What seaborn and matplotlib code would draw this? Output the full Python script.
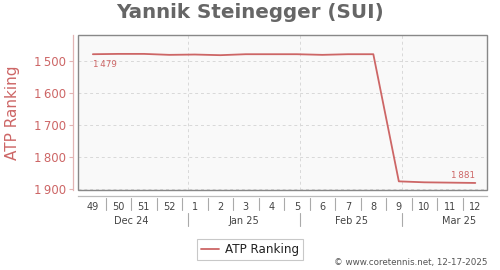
import matplotlib
matplotlib.use('Agg')
import matplotlib.pyplot as plt
import matplotlib.dates as mdates
import matplotlib.transforms as mtrans
from matplotlib.lines import Line2D
from matplotlib.patches import Rectangle
import seaborn as sns
import pandas as pd

# ---- data ----
week_labels = ['49', '50', '51', '52', '1', '2', '3', '4', '5', '6', '7', '8', '9', '10', '11', '12']
week_dates = ['2024-12-06', '2024-12-13', '2024-12-20', '2024-12-27', '2025-01-03', '2025-01-10',
              '2025-01-17', '2025-01-24', '2025-01-31', '2025-02-07', '2025-02-14', '2025-02-21',
              '2025-02-28', '2025-03-07', '2025-03-14', '2025-03-21']
ranking = [1479, 1478, 1478, 1481, 1480, 1482, 1479, 1479, 1479, 1481, 1479, 1479,
           1876, 1879, 1880, 1881]
month_labels = ['Dec 24', 'Jan 25', 'Feb 25', 'Mar 25']
month_starts = ['2024-12-01', '2025-01-01', '2025-02-01', '2025-03-01', '2025-04-01']
y_ticks = [1500, 1600, 1700, 1800, 1900]
title = 'Yannik Steinegger (SUI)'
series_name = 'ATP Ranking'
footer = '\u00a9 www.coretennis.net, 12-17-2025'

RED = '#cd6666'
GRAY_TXT = '#444444'

df = pd.DataFrame({'date': pd.to_datetime(week_dates), 'rank': ranking})

sns.set_style('white')
plt.rcParams['font.family'] = ['DejaVu Sans']

fig = plt.figure(figsize=(5, 2.7), dpi=100)
ax = fig.add_axes([78.3 / 500, 1 - 190 / 270, (487.3 - 78.3) / 500, (190 - 35) / 270])
ax.set_facecolor('#f9f9f9')

sns.lineplot(data=df, x='date', y='rank', ax=ax, color=RED, linewidth=1.3, legend=False)

xmin = mdates.date2num(pd.Timestamp('2024-12-02'))
xmax = mdates.date2num(pd.Timestamp('2025-03-24 07:00'))
ax.set_xlim(xmin, xmax)
ax.set_ylim(1903, 1419)

# grid
ax.set_yticks(y_ticks)
ax.set_yticklabels([f'{v:,}'.replace(',', '\u2009') for v in y_ticks])
for v in y_ticks:
    ax.axhline(v, color='#d8d8d8', lw=0.7, ls=(0, (3, 3)), zorder=0)
ms_num = [mdates.date2num(pd.Timestamp(m)) for m in month_starts]
for m in ms_num[1:-1]:
    ax.axvline(m, color='#d8d8d8', lw=0.7, ls=(0, (3, 3)), zorder=0)

# frame
ax.add_patch(Rectangle((0, 0), 1, 1, transform=ax.transAxes, fill=False,
                       edgecolor='#888888', lw=1.0, zorder=5, clip_on=False))
for s in ['top', 'right']:
    ax.spines[s].set_visible(False)
ax.spines['left'].set_position(('outward', 4))
ax.spines['left'].set_color('#e2b4b4')
ax.spines['left'].set_linewidth(0.9)
ax.spines['bottom'].set_position(('outward', 4))
ax.spines['bottom'].set_color('#bbbbbb')
ax.spines['bottom'].set_linewidth(0.9)

ax.tick_params(axis='y', colors='#e2b4b4', labelcolor=RED, labelsize=8.5, length=3, width=0.8, pad=2, left=True)

# x week labels
wd = [mdates.date2num(pd.Timestamp(d)) for d in week_dates]
ax.set_xticks(wd)
ax.set_xticklabels(week_labels)
ax.tick_params(axis='x', which='major', length=0, labelsize=7, labelcolor=GRAY_TXT, pad=5)
ax.set_xticks([d + 3.5 for d in wd[:-1]], minor=True)
ax.tick_params(axis='x', which='minor', length=0)
for d in wd[:-1]:
    ax.plot([d + 3.5, d + 3.5], [-8 / 155, -20 / 155], transform=mtrans.blended_transform_factory(ax.transData, ax.transAxes),
            color='#aaaaaa', lw=0.8, clip_on=False)

ax.set_xlabel('')
ax.set_ylabel(series_name, color=RED, fontsize=11)
ax.yaxis.set_label_coords(-0.1425, 0.5)

# month labels and separators
trans = mtrans.blended_transform_factory(ax.transData, ax.transAxes)
for i, lab in enumerate(month_labels):
    mid = (ms_num[i] + ms_num[i + 1]) / 2
    ax.text(mid, -30.5 / 155, lab, transform=trans, ha='center', va='center',
            fontsize=7, color=GRAY_TXT, clip_on=False)
for m in ms_num[1:-1]:
    ax.plot([m, m], [-23 / 155, -36 / 155], transform=trans, color='#aaaaaa', lw=0.8, clip_on=False)

# annotations
ax.annotate(f'{ranking[0]:,}'.replace(',', '\u2009'), (wd[0], ranking[0]), xytext=(0, -4),
            textcoords='offset points', ha='left', va='top', fontsize=6.3, color=RED)
ax.annotate(f'{ranking[-1]:,}'.replace(',', '\u2009'), (wd[-1], ranking[-1]), xytext=(0, 2),
            textcoords='offset points', ha='right', va='bottom', fontsize=6.3, color=RED)

# legend
h = Line2D([], [], color=RED, lw=1.3)
leg = fig.legend([h], [series_name], loc='upper center', bbox_to_anchor=(0.5, 1 - 233 / 270),
                 frameon=True, fancybox=False, fontsize=8.6, handlelength=1.5, borderpad=0.35,
                 handletextpad=0.5, labelcolor='#222222')
leg.get_frame().set_edgecolor('#bbbbbb')
leg.get_frame().set_linewidth(0.8)

fig.text(0.5, 1 - 13 / 270, title, ha='center', va='center', fontsize=14.3,
         fontweight='bold', color='#666666')
fig.text(488 / 500, 1 - 263 / 270, footer, ha='right', va='center', fontsize=6.3, color='#555555')

fig.savefig('out.png', dpi=100)
